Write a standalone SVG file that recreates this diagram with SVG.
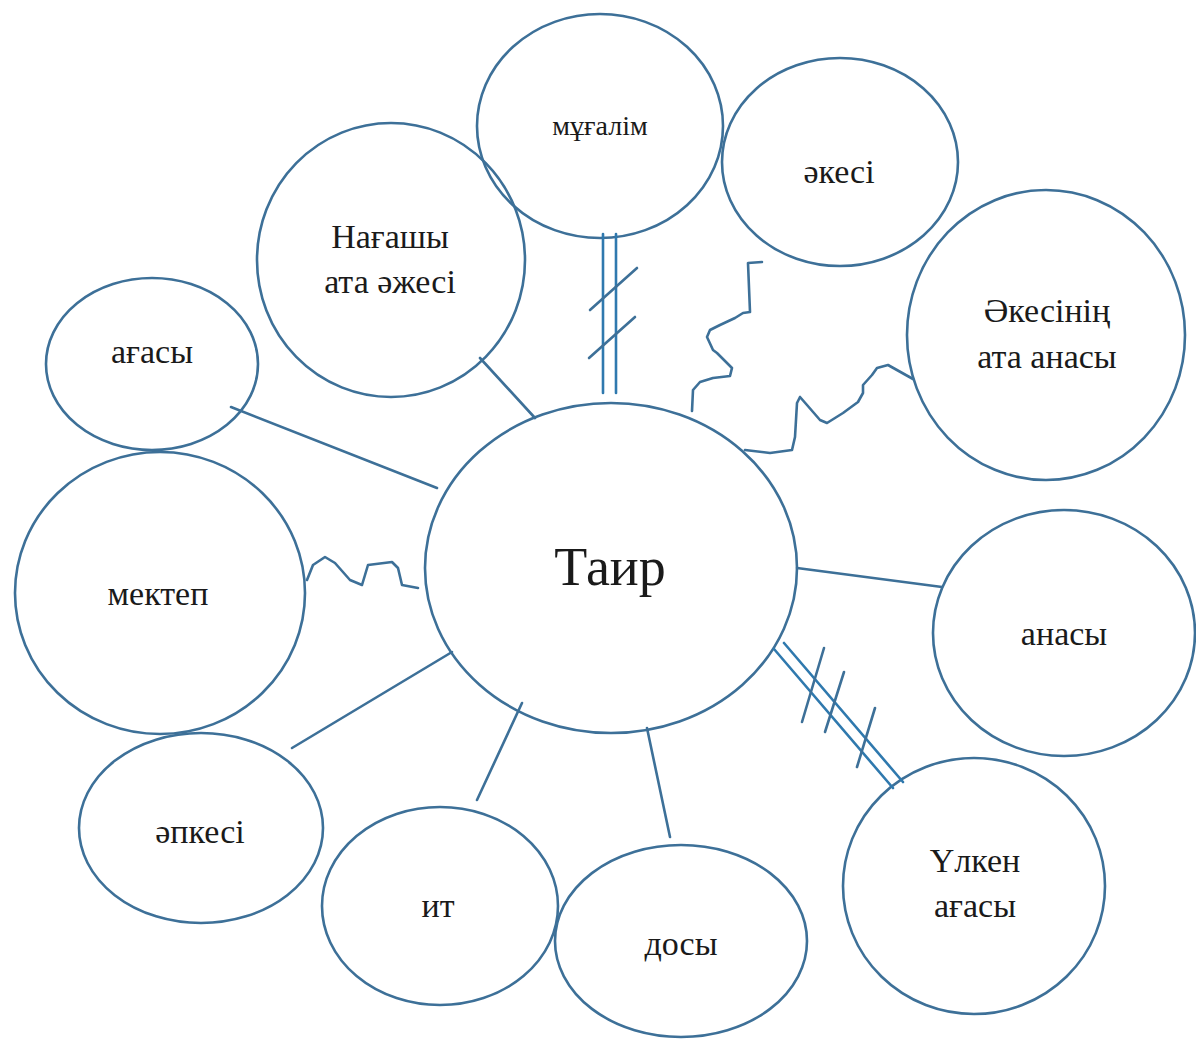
<svg xmlns="http://www.w3.org/2000/svg" width="1196" height="1041" viewBox="0 0 1196 1041">
<style>
.n{fill:none;stroke:#3d7098;stroke-width:2.6}
.c line,.c path,.c polyline{fill:none;stroke:#3d7098;stroke-width:2.6;stroke-linejoin:round;stroke-linecap:round}
.c .d{stroke:#2f79ae}
text{font-family:"Liberation Serif","Times New Roman",serif;font-size:34px;fill:#1a1a1a;text-anchor:middle}
</style>
<rect width="1196" height="1041" fill="#ffffff"/>
<g id="node-tair"><ellipse class="n" cx="611" cy="568" rx="186" ry="165"/><text x="610" y="585" style="font-size:54px">Таир</text></g>
<g id="node-mugalim"><ellipse class="n" cx="600" cy="126" rx="123" ry="112"/><text x="600" y="135" style="font-size:28px">мұғалім</text></g>
<g id="node-akesi"><ellipse class="n" cx="840" cy="162" rx="118" ry="104"/><text x="839" y="183">әкесі</text></g>
<g id="node-nagashy"><ellipse class="n" cx="391" cy="260" rx="134" ry="137"/><text x="390" y="248">Нағашы</text><text x="390" y="293">ата әжесі</text></g>
<g id="node-akesinin"><ellipse class="n" cx="1046" cy="335" rx="139" ry="145"/><text x="1047" y="322">Әкесінің</text><text x="1047" y="368">ата анасы</text></g>
<g id="node-agasy"><ellipse class="n" cx="152" cy="364" rx="106" ry="86"/><text x="152" y="363">ағасы</text></g>
<g id="node-mektep"><ellipse class="n" cx="160" cy="593" rx="145" ry="141"/><text x="158" y="605">мектеп</text></g>
<g id="node-anasy"><ellipse class="n" cx="1064" cy="633" rx="131" ry="123"/><text x="1064" y="645">анасы</text></g>
<g id="node-apkesi"><ellipse class="n" cx="201" cy="828" rx="122" ry="95"/><text x="200" y="843">әпкесі</text></g>
<g id="node-it"><ellipse class="n" cx="440" cy="906" rx="118" ry="99"/><text x="438" y="917">ит</text></g>
<g id="node-dosy"><ellipse class="n" cx="681" cy="941" rx="126" ry="96"/><text x="681" y="955">досы</text></g>
<g id="node-ulken"><ellipse class="n" cx="974" cy="886" rx="131" ry="128"/><text x="975" y="872">Үлкен</text><text x="975" y="917">ағасы</text></g>
<g id="connectors" class="c">
<line x1="231" y1="407" x2="437" y2="488"/>
<line x1="480" y1="358" x2="535" y2="418"/>
<line x1="797" y1="568" x2="942" y2="587"/>
<line x1="292" y1="748" x2="452" y2="652"/>
<line x1="477" y1="800" x2="522" y2="703"/>
<line x1="647" y1="728" x2="670" y2="837"/>
<line class="d" x1="603" y1="234" x2="603" y2="393"/>
<line class="d" x1="616" y1="234" x2="616" y2="393"/>
<line x1="590" y1="310" x2="637" y2="268"/>
<line x1="589" y1="358" x2="635" y2="317"/>
<line class="d" x1="774" y1="649" x2="893" y2="788"/>
<line class="d" x1="784" y1="643" x2="903" y2="782"/>
<line x1="802" y1="722" x2="824" y2="648"/>
<line x1="825" y1="732" x2="844" y2="672"/>
<line x1="857" y1="767" x2="875" y2="708"/>
<polyline points="762,262 748,263 750,312 743,313 735,318 720,325 710,330 707,337 713,350 717,353 722,358 732,368 730,376 713,378 700,382 693,390 692,411"/>
<polyline points="913,379 888,365 877,368 872,375 863,385 863,393 858,402 843,413 827,423 820,420 807,405 800,397 797,403 795,437 792,450 770,453 745,450"/>
<polyline points="307,580 313,565 325,557 335,563 350,580 362,585 365,575 368,565 392,562 398,568 402,585 418,588"/>
</g>
</svg>
